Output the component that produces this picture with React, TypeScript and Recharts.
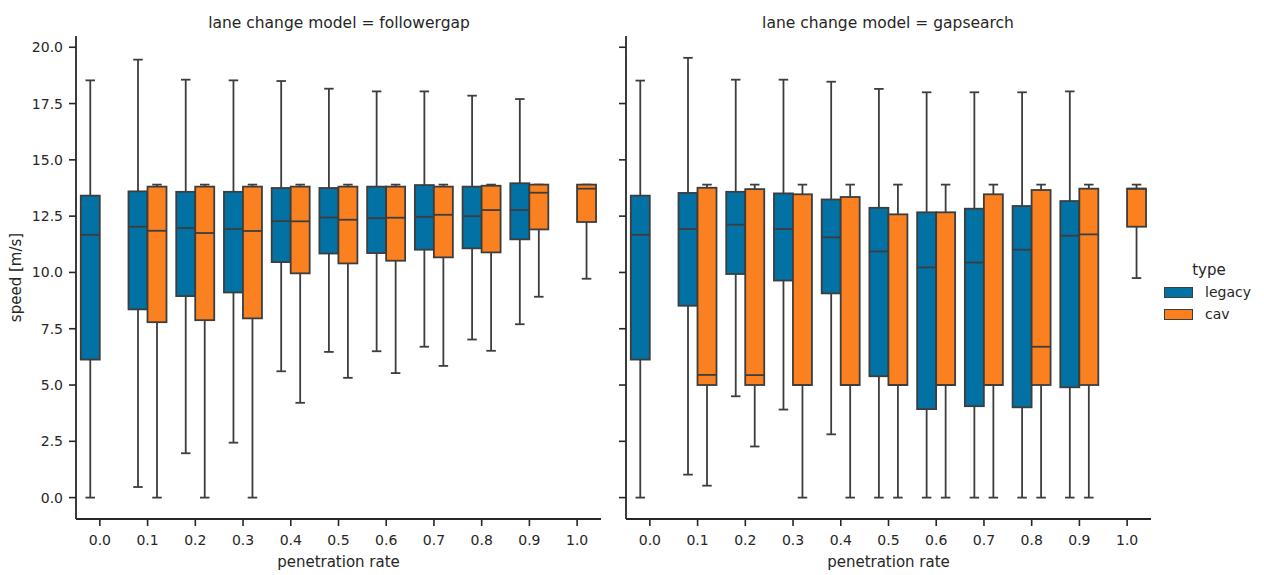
import React from 'react';
import { ComposedChart, Bar, XAxis, YAxis, Legend } from 'recharts';

const FONT = '"DejaVu Sans", Verdana, sans-serif';
const BLUE = '#0272a4';
const ORANGE = '#fa8020';
const EDGE = '#3d3d3d';
const AXIS = '#262626';
const TEXT = '#262626';

const categories = ['0.0', '0.1', '0.2', '0.3', '0.4', '0.5', '0.6', '0.7', '0.8', '0.9', '1.0'];
const yTicks = [0, 2.5, 5, 7.5, 10, 12.5, 15, 17.5, 20];

// each entry: [low whisker, Q1, median, Q3, high whisker]
const followergapLegacy = [
  [0, 6.13, 11.67, 13.41, 18.53],
  [0.47, 8.36, 12.03, 13.6, 19.45],
  [1.97, 8.95, 11.97, 13.58, 18.56],
  [2.44, 9.11, 11.93, 13.58, 18.53],
  [5.61, 10.46, 12.28, 13.75, 18.5],
  [6.47, 10.84, 12.44, 13.75, 18.16],
  [6.5, 10.86, 12.41, 13.81, 18.04],
  [6.7, 11.01, 12.47, 13.88, 18.04],
  [7.02, 11.07, 12.5, 13.81, 17.85],
  [7.7, 11.47, 12.77, 13.96, 17.7],
  null,
];
const followergapCav = [
  null,
  [0, 7.79, 11.85, 13.81, 13.9],
  [0, 7.88, 11.75, 13.81, 13.9],
  [0, 7.96, 11.84, 13.81, 13.9],
  [4.21, 9.96, 12.27, 13.81, 13.9],
  [5.32, 10.4, 12.34, 13.81, 13.9],
  [5.53, 10.52, 12.43, 13.81, 13.9],
  [5.85, 10.67, 12.56, 13.81, 13.9],
  [6.52, 10.89, 12.77, 13.85, 13.9],
  [8.92, 11.91, 13.54, 13.9, 13.9],
  [9.72, 12.24, 13.72, 13.9, 13.9],
];
const gapsearchLegacy = [
  [0, 6.13, 11.67, 13.41, 18.52],
  [1.02, 8.52, 11.93, 13.53, 19.53],
  [4.5, 9.93, 12.12, 13.58, 18.56],
  [3.91, 9.64, 11.93, 13.51, 18.56],
  [2.81, 9.07, 11.56, 13.24, 18.47],
  [0, 5.39, 10.93, 12.87, 18.15],
  [0, 3.93, 10.22, 12.67, 18.0],
  [0, 4.06, 10.44, 12.83, 18.0],
  [0, 4.01, 11.01, 12.95, 18.0],
  [0, 4.9, 11.63, 13.17, 18.04],
  null,
];
const gapsearchCav = [
  null,
  [0.53, 5.0, 5.45, 13.76, 13.9],
  [2.27, 5.0, 5.44, 13.7, 13.9],
  [0, 5.0, 5.0, 13.47, 13.9],
  [0, 5.0, 5.0, 13.35, 13.9],
  [0, 5.0, 5.0, 12.58, 13.9],
  [0, 5.0, 5.0, 12.67, 13.9],
  [0, 5.0, 5.0, 13.47, 13.9],
  [0, 5.0, 6.7, 13.66, 13.9],
  [0, 5.0, 11.69, 13.72, 13.9],
  [9.75, 12.03, 13.72, 13.72, 13.9],
];

type Stats = number[] | null;
type Row = { cat: string; legacy: Stats; cav: Stats };

const buildRows = (legacy: Stats[], cav: Stats[]): Row[] =>
  categories.map((cat, i) => ({ cat, legacy: legacy[i], cav: cav[i] }));

const followergapData = buildRows(followergapLegacy, followergapCav);
const gapsearchData = buildRows(gapsearchLegacy, gapsearchCav);

function BoxShape(props: any) {
  const { x, y, width, height, payload, seriesKey, color } = props;
  const s: Stats = payload ? payload[seriesKey] : null;
  if (!s || height === undefined || height === null || isNaN(height)) return null;
  const [low, q1, med, q3, high] = s;
  const top = Math.min(y, y + height);
  const h = Math.abs(height);
  if (high === low) return null;
  const k = h / (high - low);
  const py = (v: number) => top + (high - v) * k;
  const cx = x + width / 2;
  const capHalf = width / 4;
  const sw = 1.8;
  return (
    <g>
      <line x1={cx} x2={cx} y1={py(high)} y2={py(q3)} stroke={EDGE} strokeWidth={sw} />
      <line x1={cx} x2={cx} y1={py(q1)} y2={py(low)} stroke={EDGE} strokeWidth={sw} />
      <line x1={cx - capHalf} x2={cx + capHalf} y1={py(high)} y2={py(high)} stroke={EDGE} strokeWidth={sw} />
      <line x1={cx - capHalf} x2={cx + capHalf} y1={py(low)} y2={py(low)} stroke={EDGE} strokeWidth={sw} />
      <rect x={x} y={py(q3)} width={width} height={Math.max(0, py(q1) - py(q3))} fill={color} stroke={EDGE} strokeWidth={sw} />
      <line x1={x} x2={x + width} y1={py(med)} y2={py(med)} stroke={EDGE} strokeWidth={sw} />
    </g>
  );
}

const rangeOf = (key: 'legacy' | 'cav') => (d: Row) => {
  const s = d[key];
  return s ? [s[0], s[4]] : null;
};

function LegendBox() {
  const row = (label: string, color: string) => (
    <div style={{ display: 'flex', alignItems: 'center', height: 22 }}>
      <div style={{ width: 27, height: 9, background: color, border: `1px solid ${EDGE}` }} />
      <span style={{ marginLeft: 12, fontSize: 14, color: TEXT, fontFamily: FONT, lineHeight: '22px' }}>{label}</span>
    </div>
  );
  return (
    <div style={{ width: 90, fontFamily: FONT }}>
      <div style={{ textAlign: 'center', fontSize: 15, lineHeight: '21px', color: TEXT }}>type</div>
      {row('legacy', BLUE)}
      {row('cav', ORANGE)}
    </div>
  );
}

function Panel(props: {
  data: Row[];
  left: number;
  width: number;
  yAxisWidth: number;
  marginRight: number;
  showYLabels: boolean;
  showLegend: boolean;
}) {
  const { data, left, width, yAxisWidth, marginRight, showYLabels, showLegend } = props;
  return (
    <div style={{ position: 'absolute', left, top: 0 }}>
      <ComposedChart
        width={width}
        height={575}
        data={data}
        margin={{ top: 36, right: marginRight, bottom: 0, left: 0 }}
        barCategoryGap="10%"
        barGap={0}
      >
        <XAxis
          dataKey="cat"
          height={56}
          tickSize={7}
          tickMargin={9}
          axisLine={{ stroke: AXIS, strokeWidth: 1.8 }}
          tickLine={{ stroke: AXIS, strokeWidth: 1.6 }}
          tick={{ fill: TEXT, fontSize: 14, fontFamily: FONT }}
          interval={0}
          label={{ value: 'penetration rate', position: 'insideBottom', offset: 8, fill: TEXT, fontSize: 15, fontFamily: FONT }}
        />
        <YAxis
          type="number"
          domain={[-0.95, 20.5]}
          allowDataOverflow
          ticks={yTicks}
          interval={0}
          width={yAxisWidth}
          tickSize={7}
          tickMargin={6}
          axisLine={{ stroke: AXIS, strokeWidth: 1.8 }}
          tickLine={{ stroke: AXIS, strokeWidth: 1.6 }}
          tick={{ fill: TEXT, fontSize: 14, fontFamily: FONT }}
          tickFormatter={(v: number) => (showYLabels ? v.toFixed(1) : '')}
          label={
            showYLabels
              ? {
                  content: (p: any) => {
                    const vb = p.viewBox || { y: 36, height: 483 };
                    const cy = vb.y + vb.height / 2;
                    return (
                      <text
                        x={16}
                        y={cy}
                        transform={`rotate(-90, 16, ${cy})`}
                        textAnchor="middle"
                        dominantBaseline="central"
                        fill={TEXT}
                        fontSize={15}
                        fontFamily={FONT}
                      >
                        speed [m/s]
                      </text>
                    );
                  },
                }
              : undefined
          }
        />
        <Bar
          name="legacy"
          dataKey={rangeOf('legacy')}
          fill={BLUE}
          isAnimationActive={false}
          shape={(p: any) => <BoxShape {...p} seriesKey="legacy" color={BLUE} />}
        />
        <Bar
          name="cav"
          dataKey={rangeOf('cav')}
          fill={ORANGE}
          isAnimationActive={false}
          shape={(p: any) => <BoxShape {...p} seriesKey="cav" color={ORANGE} />}
        />
        {showLegend && (
          <Legend
            layout="vertical"
            align="center"
            verticalAlign="middle"
            wrapperStyle={{ left: 1164 - left, top: 260, width: 90 }}
            content={() => <LegendBox />}
          />
        )}
      </ComposedChart>
    </div>
  );
}

const titleStyle = (cx: number): React.CSSProperties => ({
  position: 'absolute',
  left: cx - 200,
  width: 400,
  top: 14,
  textAlign: 'center',
  fontSize: 15.5,
  lineHeight: '18px',
  color: TEXT,
  fontFamily: FONT,
  whiteSpace: 'nowrap',
});

export default function App() {
  return (
    <div style={{ position: 'absolute', left: 0, top: 0, width: 1264, height: 575, background: '#ffffff', fontFamily: FONT, overflow: 'hidden' }}>
      <Panel data={followergapData} left={0} width={620} yAxisWidth={76} marginRight={19} showYLabels={true} showLegend={false} />
      <Panel data={gapsearchData} left={560} width={704} yAxisWidth={66} marginRight={113} showYLabels={false} showLegend={true} />
      <div style={titleStyle(339)}>lane change model = followergap</div>
      <div style={titleStyle(888)}>lane change model = gapsearch</div>
    </div>
  );
}
